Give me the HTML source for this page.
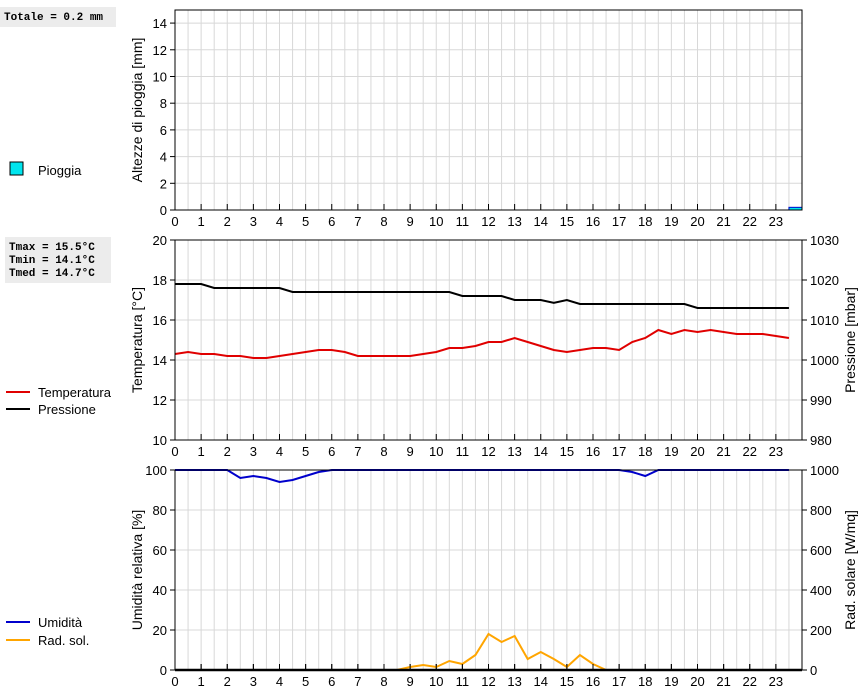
<!DOCTYPE html>
<html><head><meta charset="utf-8"><style>
body{margin:0;background:#fff;}
svg{display:block;font-family:"Liberation Sans",sans-serif;}
.box{font-family:"Liberation Mono",monospace;font-weight:bold;font-size:11px;}
</style></head><body>
<svg id="c" width="860" height="690"></svg>
<script>
const hours=[0,0.5,1,1.5,2,2.5,3,3.5,4,4.5,5,5.5,6,6.5,7,7.5,8,8.5,9,9.5,10,10.5,11,11.5,12,12.5,13,13.5,14,14.5,15,15.5,16,16.5,17,17.5,18,18.5,19,19.5,20,20.5,21,21.5,22,22.5,23,23.5];
const temperature=[14.3,14.4,14.3,14.3,14.2,14.2,14.1,14.1,14.2,14.3,14.4,14.5,14.5,14.4,14.2,14.2,14.2,14.2,14.2,14.3,14.4,14.6,14.6,14.7,14.9,14.9,15.1,14.9,14.7,14.5,14.4,14.5,14.6,14.6,14.5,14.9,15.1,15.5,15.3,15.5,15.4,15.5,15.4,15.3,15.3,15.3,15.2,15.1];
const pressure=[1019,1019,1019,1018,1018,1018,1018,1018,1018,1017,1017,1017,1017,1017,1017,1017,1017,1017,1017,1017,1017,1017,1016,1016,1016,1016,1015,1015,1015,1014.3,1015,1014,1014,1014,1014,1014,1014,1014,1014,1014,1013,1013,1013,1013,1013,1013,1013,1013];
const humidity=[100,100,100,100,100,96,97,96,94,95,97,99,100,100,100,100,100,100,100,100,100,100,100,100,100,100,100,100,100,100,100,100,100,100,100,99,97,100,100,100,100,100,100,100,100,100,100,100];
const solar=[0,0,0,0,0,0,0,0,0,0,0,0,0,0,0,0,0,0,15,25,15,45,30,75,180,140,170,55,90,55,15,75,30,0,0,0,0,0,0,0,0,0,0,0,0,0,0,0];
const rainHours=[23.5];
const rainValues=[0.2];
const xTicks=[0,1,2,3,4,5,6,7,8,9,10,11,12,13,14,15,16,17,18,19,20,21,22,23];
const rainTicks=[0,2,4,6,8,10,12,14];
const tempTicks=[10,12,14,16,18,20];
const presTicks=[980,990,1000,1010,1020,1030];
const humTicks=[0,20,40,60,80,100];
const solTicks=[0,200,400,600,800,1000];

const svg=document.getElementById('c');const NS='http://www.w3.org/2000/svg';
function el(t,a,p,name){const e=document.createElementNS(NS,t);for(const k in a)e.setAttribute(k,a[k]);


(p||svg).appendChild(e);return e;}
const X0=175,X1=802;
const xs=h=>X0+h*(X1-X0)/24;
function panel(top,bot,name,lmin,lmax,lticks,ltitle,rmin,rmax,rticks,rtitle){
 const g=el('g',{},svg,name);
 el('rect',{x:X0,y:top,width:X1-X0,height:bot-top,fill:'#fff'},g,name+'-bg');
 for(let h=0.5;h<24;h+=0.5)el('line',{x1:xs(h),x2:xs(h),y1:top,y2:bot,stroke:'#d8d8d8'},g,'v-grid');
 const ly=v=>bot-(v-lmin)/(lmax-lmin)*(bot-top);
 lticks.forEach(v=>{const y=ly(v);el('line',{x1:X0,x2:X1,y1:y,y2:y,stroke:'#d8d8d8'},g,'h-grid');
  el('line',{x1:X0-5,x2:X0,y1:y,y2:y,stroke:'#000'},g,'y-tick');
  const t=el('text',{x:X0-8,y:y+5,'text-anchor':'end','font-size':13},g,'y-tick-label');t.textContent=v;});
 const ry=rmin!=null?(v=>bot-(v-rmin)/(rmax-rmin)*(bot-top)):null;
 if(rticks)rticks.forEach(v=>{const y=ry(v);el('line',{x1:X1,x2:X1+5,y1:y,y2:y,stroke:'#000'},g,'y2-tick');
  const t=el('text',{x:X1+8,y:y+5,'font-size':13},g,'y2-tick-label');t.textContent=v;});
 xTicks.forEach(v=>{const x=xs(v);el('line',{x1:x,x2:x,y1:bot-6,y2:bot,stroke:'#000'},g,'x-tick');
  const t=el('text',{x:x,y:bot+16,'text-anchor':'middle','font-size':13},g,'x-tick-label');t.textContent=v;});
 const t=el('text',{transform:`translate(142,${(top+bot)/2}) rotate(-90)`,'text-anchor':'middle','font-size':14},g,'y-axis-title');t.textContent=ltitle;
 if(rtitle){const t2=el('text',{transform:`translate(855,${(top+bot)/2}) rotate(-90)`,'text-anchor':'middle','font-size':14},g,'y2-axis-title');t2.textContent=rtitle;}
 return {g,ly,ry,top,bot};
}
function line(p,vals,sc,color,name){el('polyline',{points:hours.map((h,i)=>xs(h)+','+sc(vals[i])).join(' '),fill:'none',stroke:color,'stroke-width':2},p.g,name);}
function frame(p,name){el('rect',{x:X0,y:p.top,width:X1-X0,height:p.bot-p.top,fill:'none',stroke:'#000'},p.g,name);}
const p1=panel(10,210,'rain-panel',0,14.98,rainTicks,'Altezze di pioggia [mm]');
rainHours.forEach((h,i)=>{const y=p1.ly(rainValues[i]);el('rect',{x:xs(h),y:y,width:xs(h+0.5)-xs(h),height:210-y,fill:'#00e5ee',stroke:'#0000cc','stroke-width':1},p1.g,'rain-bar');});
frame(p1,'rain-frame');
const p2=panel(240,440,'temp-panel',10,20,tempTicks,'Temperatura [°C]',980,1030,presTicks,'Pressione [mbar]');
line(p2,pressure,p2.ry,'#000','pressure-line');line(p2,temperature,p2.ly,'#e00000','temperature-line');frame(p2,'temp-frame');
const p3=panel(470,670,'humidity-panel',0,100,humTicks,'Umidità relativa [%]',0,1000,solTicks,'Rad. solare [W/mq]');
line(p3,solar,p3.ry,'#ffa500','solar-line');line(p3,humidity,p3.ly,'#0000cc','humidity-line');frame(p3,'humidity-frame');
el('line',{x1:X0,x2:X1,y1:670,y2:670,stroke:'#000','stroke-width':2.5},p3.g,'x-axis-line');
xTicks.forEach(v=>{const x=xs(v);el('line',{x1:x,x2:x,y1:664,y2:670,stroke:'#000'},p3.g,'x-tick');});
function box(x,y,w,h,lines,name){el('rect',{x:x,y:y,width:w,height:h,fill:'#ececec'},svg,name+'-bg');
 lines.forEach((s,i)=>{const t=el('text',{x:x+4,y:y+13+i*13,class:'box'},svg,name);t.textContent=s;});}
box(0,7,116,20,['Totale = 0.2 mm'],'rain-total');
box(5,237,106,46,['Tmax = 15.5°C','Tmin = 14.1°C','Tmed = 14.7°C'],'temp-stats');
el('rect',{x:10,y:162,width:13,height:13,fill:'#00e5ee',stroke:'#000'},svg,'legend-rain-swatch');
function lt(x,y,s,n){const t=el('text',{x:x,y:y,'font-size':13},svg,n);t.textContent=s;}
lt(38,175,'Pioggia','legend-rain');
const L=[[392,'#e00000','Temperatura'],[409,'#000','Pressione'],[622,'#0000cc','Umidità'],[640,'#ffa500','Rad. sol.']];
L.forEach(([y,c,s])=>{el('line',{x1:6,x2:30,y1:y,y2:y,stroke:c,'stroke-width':2},svg,'legend-line');lt(38,y+5,s,'legend-entry');});
</script></body></html>
